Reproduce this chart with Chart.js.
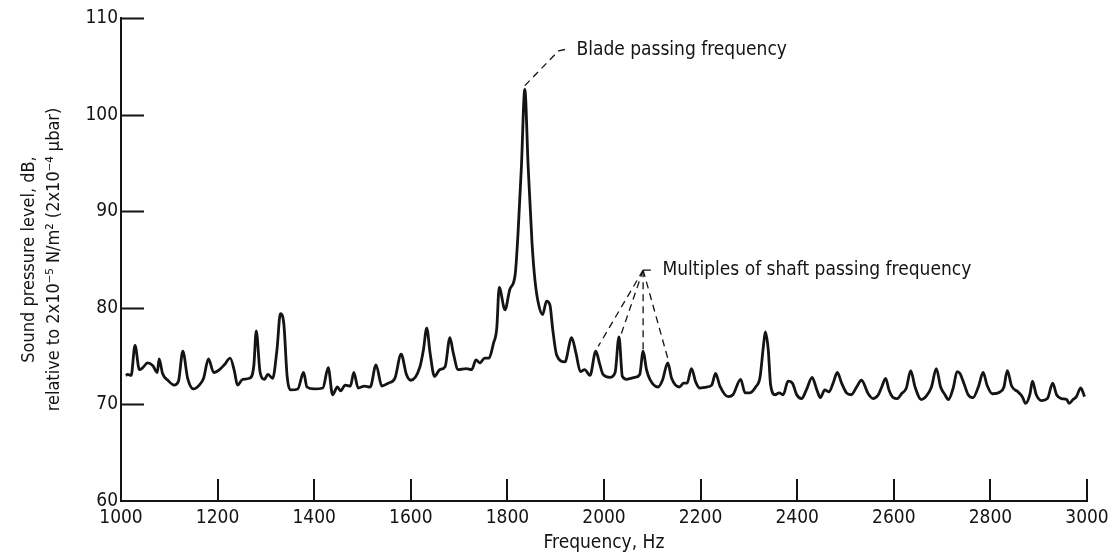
<!DOCTYPE html>
<html>
<head>
<meta charset="utf-8">
<script src="https://cdn.jsdelivr.net/npm/chart.js@4.4.0/dist/chart.umd.min.js"></script>
<style>
  body { margin: 0; background: #fff; }
  canvas { display: block; }
</style>
</head>
<body>
<canvas id="grafico" width="1109" height="559"></canvas>
<script>
// spectrum: frequency (Hz) and sound pressure level (dB)
const freq = [
  1010, 1014, 1021, 1029, 1038, 1045, 1055, 1066, 1075, 1079, 1086, 1097, 1110, 1119, 1128, 1138,
  1150, 1162, 1171, 1181, 1192, 1204, 1214, 1226, 1235, 1241, 1252, 1266, 1275, 1280, 1288, 1297,
  1304, 1314, 1323, 1330, 1337, 1344, 1352, 1366, 1378, 1385, 1400, 1418, 1429, 1438, 1448, 1455,
  1464, 1475, 1482, 1491, 1504, 1516, 1528, 1540, 1553, 1567, 1580, 1591, 1600, 1619, 1626, 1633,
  1640, 1649, 1660, 1671, 1681, 1688, 1698, 1715, 1726, 1735, 1743, 1753, 1762, 1771, 1778, 1783,
  1795, 1805, 1816, 1822, 1829, 1836, 1843, 1851, 1857, 1864, 1873, 1881, 1888, 1894, 1902, 1919,
  1933, 1942, 1951, 1960, 1971, 1983, 1991, 1998, 2012, 2023, 2031, 2038, 2047, 2064, 2074, 2081,
  2088, 2095, 2112, 2121, 2132, 2140, 2156, 2165, 2172, 2181, 2190, 2198, 2212, 2223, 2231, 2240,
  2257, 2267, 2283, 2292, 2302, 2314, 2323, 2330, 2334, 2340, 2345, 2354, 2363, 2371, 2381, 2390,
  2399, 2409, 2419, 2431, 2440, 2448, 2457, 2466, 2475, 2483, 2492, 2502, 2512, 2523, 2533, 2547,
  2557, 2568, 2575, 2583, 2590, 2599, 2607, 2616, 2626, 2635, 2644, 2657, 2668, 2678, 2688, 2697,
  2706, 2713, 2723, 2731, 2737, 2745, 2754, 2764, 2775, 2785, 2793, 2804, 2820, 2828, 2835, 2844,
  2857, 2866, 2873, 2882, 2887, 2895, 2906, 2918, 2929, 2937, 2947, 2958, 2963, 2971, 2978, 2987,
  2995
];
const spl = [
  73.0, 73.1, 73.0, 76.1, 73.6, 73.8, 74.3, 74.0, 73.3, 74.7, 73.2, 72.5, 72.0, 72.4, 75.5, 72.7,
  71.6, 72.0, 72.7, 74.7, 73.3, 73.6, 74.1, 74.8, 73.4, 72.0, 72.6, 72.7, 74.0, 77.6, 73.3, 72.6,
  73.1, 72.7, 75.7, 79.4, 78.4, 72.9, 71.5, 71.6, 73.3, 71.8, 71.6, 71.7, 73.8, 71.0, 71.8, 71.4,
  72.0, 71.9, 73.3, 71.7, 71.9, 71.8, 74.1, 71.9, 72.2, 72.7, 75.2, 73.1, 72.5, 73.9, 75.6, 77.9,
  75.3, 72.9, 73.6, 73.9, 76.9, 75.3, 73.6, 73.7, 73.6, 74.6, 74.3, 74.8, 74.8, 76.3, 77.9, 82.1,
  79.8, 81.9, 83.4, 87.7, 94.6, 102.6, 94.6, 86.7, 82.9, 80.5, 79.3, 80.7, 80.3, 77.7, 75.1, 74.4,
  76.9, 75.3, 73.4, 73.6, 73.0, 75.5, 74.2, 73.1, 72.8, 73.3, 77.0, 72.9, 72.6, 72.8, 73.1, 75.5,
  73.6, 72.6, 71.8, 72.5, 74.3, 72.7, 71.8, 72.2, 72.2, 73.7, 72.3, 71.7, 71.8, 72.0, 73.2, 71.9,
  70.8, 71.0, 72.6, 71.2, 71.2, 71.8, 72.8, 76.0, 77.5, 75.7, 72.0, 71.0, 71.2, 71.0, 72.4, 72.2,
  71.0, 70.6, 71.5, 72.8, 71.6, 70.7, 71.5, 71.3, 72.3, 73.3, 72.2, 71.2, 71.0, 71.8, 72.5, 71.1,
  70.6, 71.0, 71.8, 72.7, 71.5, 70.7, 70.6, 71.1, 71.7, 73.5, 71.8, 70.5, 70.9, 71.8, 73.7, 71.8,
  71.0, 70.5, 71.7, 73.4, 73.2, 72.2, 71.0, 70.7, 71.8, 73.3, 72.0, 71.1, 71.3, 71.8, 73.5, 71.9,
  71.3, 70.8, 70.1, 71.1, 72.4, 71.0, 70.4, 70.6, 72.2, 71.0, 70.6, 70.5, 70.1, 70.5, 70.8, 71.7,
  70.8
];

const xTicks = [1000, 1200, 1400, 1600, 1800, 2000, 2200, 2400, 2600, 2800, 3000];
const yTicks = [60, 70, 80, 90, 100, 110];

// leader lines (in Hz / dB)
const bladeLeaderFreq = [1836, 1906, 1925];
const bladeLeaderLevel = [103.0, 106.6, 106.8];
const shaftApex = [2081, 83.9];
const shaftPeakFreq = [1988, 2033, 2081, 2133];
const shaftPeakLevel = [76.0, 76.9, 75.6, 74.6];

const noteText = ['Blade passing frequency', 'Multiples of shaft passing frequency'];
const noteFreq = [1943, 2121];
const noteLevel = [106.7, 83.9];

const fonte = "'Liberation Sans Narrow', 'DejaVu Sans Condensed', 'DejaVu Sans', sans-serif";
const tinta = '#141414';

const leaderStyle = {
  borderColor: tinta,
  borderWidth: 1.3,
  borderDash: [7, 5],
  pointRadius: 0,
  tension: 0,
  fill: false
};

const datasets = [{
  data: freq.map((f, i) => ({ x: f, y: spl[i] })),
  borderColor: tinta,
  borderWidth: 2.8,
  pointRadius: 0,
  cubicInterpolationMode: 'monotone',
  fill: false
}, {
  ...leaderStyle,
  data: bladeLeaderFreq.map((f, i) => ({ x: f, y: bladeLeaderLevel[i] }))
}, {
  ...leaderStyle,
  borderDash: [],
  data: [{ x: shaftApex[0], y: shaftApex[1] }, { x: shaftApex[0] + 16, y: shaftApex[1] }]
}];
shaftPeakFreq.forEach((f, i) => {
  datasets.push({
    ...leaderStyle,
    data: [{ x: shaftApex[0], y: shaftApex[1] }, { x: f, y: shaftPeakLevel[i] }]
  });
});

// tick marks sit inside the plot, so draw them by hand from the scales
const marcasInternas = {
  id: 'marcasInternas',
  afterDraw(chart) {
    const { ctx, scales: { x, y } } = chart;
    ctx.save();
    ctx.strokeStyle = tinta;
    ctx.lineWidth = 2;
    ctx.beginPath();
    yTicks.slice(1).forEach(v => {
      const py = Math.round(y.getPixelForValue(v)) + 0.5;
      ctx.moveTo(x.left, py);
      ctx.lineTo(x.left + 23, py);
    });
    xTicks.slice(1).forEach(v => {
      const px = Math.round(x.getPixelForValue(v));
      ctx.moveTo(px, y.bottom);
      ctx.lineTo(px, y.bottom - 22);
    });
    ctx.stroke();

    ctx.font = '19px ' + fonte;
    ctx.fillStyle = tinta;
    ctx.textBaseline = 'middle';
    ctx.textAlign = 'left';
    noteText.forEach((t, i) => {
      ctx.fillText(t, x.getPixelForValue(noteFreq[i]), y.getPixelForValue(noteLevel[i]));
    });
    ctx.restore();
  }
};

const ctx = document.getElementById('grafico').getContext('2d');
new Chart(ctx, {
  type: 'line',
  data: { datasets: datasets },
  options: {
    responsive: false,
    animation: false,
    layout: { padding: { left: 0, right: 22, top: 18, bottom: 0 } },
    plugins: { legend: { display: false }, tooltip: { enabled: false } },
    scales: {
      x: {
        type: 'linear',
        min: 1000,
        max: 3000,
        afterFit: s => { s.height = 58; s.paddingLeft = 0; s.paddingRight = 0; },
        afterBuildTicks: s => { s.ticks = xTicks.map(v => ({ value: v })); },
        grid: { display: false, drawTicks: false },
        border: { display: true, color: tinta, width: 2 },
        ticks: {
          color: tinta, padding: 6, maxRotation: 0,
          callback: v => String(v),
          font: { family: fonte, size: 19 }
        },
        title: {
          display: true,
          text: 'Frequency, Hz',
          color: tinta,
          padding: { top: 0, bottom: 5 },
          font: { family: fonte, size: 19 }
        }
      },
      y: {
        min: 60,
        max: 110,
        afterFit: s => { s.width = 121; },
        afterBuildTicks: s => { s.ticks = yTicks.map(v => ({ value: v })); },
        grid: { display: false, drawTicks: false },
        border: { display: true, color: tinta, width: 2 },
        ticks: {
          color: tinta, padding: 3,
          callback: v => String(v),
          font: { family: fonte, size: 19 }
        },
        title: {
          display: true,
          text: ['Sound pressure level, dB,', 'relative to 2x10\u207B\u2075 N/m\u00B2 (2x10\u207B\u2074 \u03BCbar)'],
          color: tinta,
          padding: { top: 17, bottom: 0 },
          font: { family: fonte, size: 18, lineHeight: 1.39 }
        }
      }
    }
  },
  plugins: [marcasInternas]
});
</script>
</body>
</html>
